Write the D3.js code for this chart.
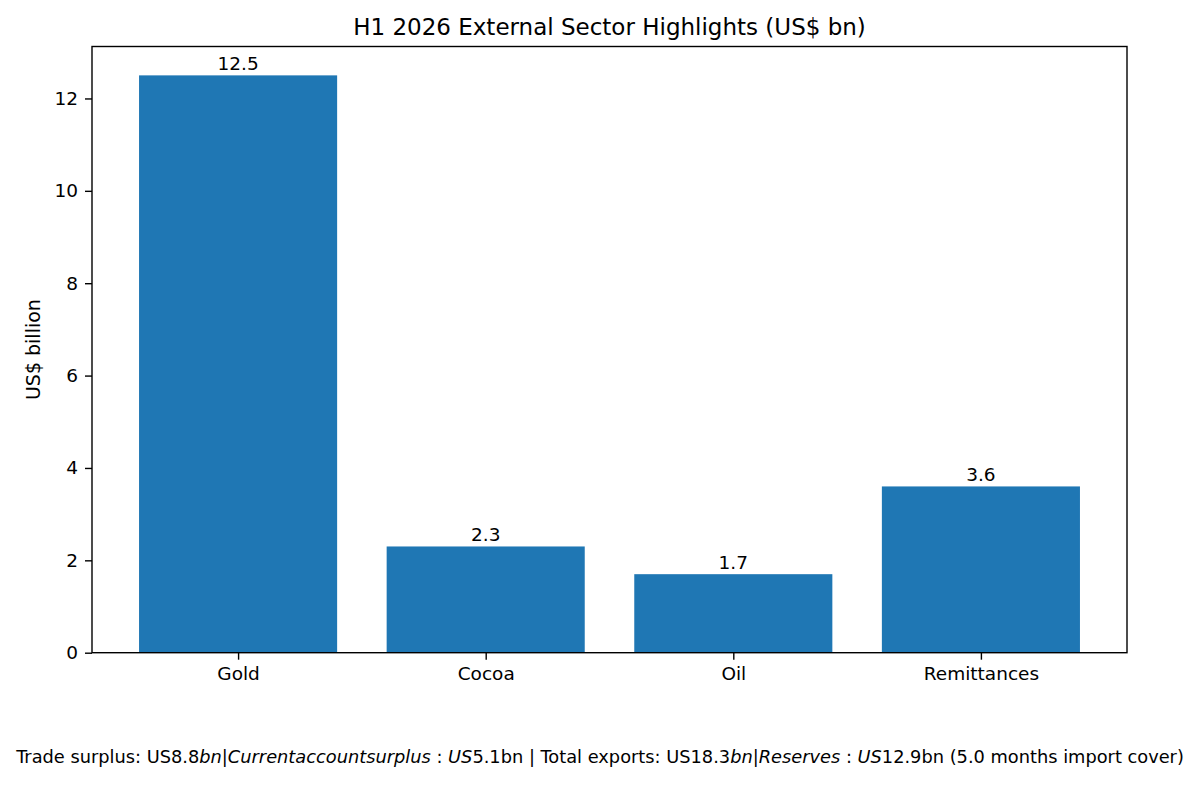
<!DOCTYPE html>
<html><head><meta charset="utf-8">
<script src="https://cdn.jsdelivr.net/npm/d3@7"></script>
<style>body{margin:0;background:#fff;} svg{font-family:"DejaVu Sans",sans-serif;}</style>
</head><body><svg id="c" width="1200" height="786"></svg>
<script>
const categories = ["Gold", "Cocoa", "Oil", "Remittances"];
const values = [12.5, 2.3, 1.7, 3.6];
const valueLabels = ["12.5", "2.3", "1.7", "3.6"];
const yTicks = [0, 2, 4, 6, 8, 10, 12];
const titleText = "H1 2026 External Sector Highlights (US$ bn)";
const yLabel = "US$ billion";
const footerParts = [
  ["Trade surplus: US8.8", false], ["bn", true], ["|", false], ["Currentaccountsurplus", true],
  [" : ", false], ["US", true], ["5.1bn | Total exports: US18.3", false], ["bn", true], ["|", false],
  ["Reserves", true], [" : ", false], ["US", true], ["12.9bn (5.0 months import cover)", false]
];

const svg = d3.select("#c");
const L = 92, R = 1127, T = 46.5, B = 652.7;
const x = d3.scaleLinear().domain([-0.59, 3.59]).range([L, R]);
const y = d3.scaleLinear().domain([0, 13.125]).range([B, T]);
const color = "#1f77b4";
const fs = "18.5px";

svg.selectAll("rect.bar").data(values).enter().append("rect")
  .attr("class", "bar")
  .attr("x", (d, i) => x(i - 0.4)).attr("width", (d, i) => x(i + 0.4) - x(i - 0.4))
  .attr("y", d => y(d)).attr("height", d => y(0) - y(d))
  .attr("fill", color);

svg.selectAll("text.val").data(values).enter().append("text")
  .attr("x", (d, i) => x(i)).attr("y", d => y(d) - 5)
  .attr("text-anchor", "middle").attr("font-size", fs).attr("fill", "#000")
  .text((d, i) => valueLabels[i]);

const yAxis = d3.axisLeft(y).tickValues(yTicks).tickSize(7).tickPadding(7).tickFormat(d3.format("d"));
const gy = svg.append("g").attr("transform", `translate(${L},0)`).call(yAxis);
gy.select(".domain").remove();
gy.selectAll("text").attr("font-size", fs).attr("font-family", "DejaVu Sans").attr("fill", "#000");
gy.selectAll("line").attr("stroke", "#000").attr("stroke-width", 1.4);

const xAxis = d3.axisBottom(x).tickValues(d3.range(categories.length)).tickSize(7).tickPadding(7).tickFormat(i => categories[i]);
const gx = svg.append("g").attr("transform", `translate(0,${B})`).call(xAxis);
gx.select(".domain").remove();
gx.selectAll("text").attr("font-size", fs).attr("font-family", "DejaVu Sans").attr("fill", "#000");
gx.selectAll("line").attr("stroke", "#000").attr("stroke-width", 1.4);

svg.append("rect").attr("x", L).attr("y", T).attr("width", R - L).attr("height", B - T)
  .attr("fill", "none").attr("stroke", "#000").attr("stroke-width", 1.4);

svg.append("text").attr("x", (L + R) / 2).attr("y", 35).attr("text-anchor", "middle")
  .attr("font-size", "23px").attr("fill", "#000").text(titleText);

svg.append("text").attr("transform", `translate(40,${(T + B) / 2}) rotate(-90)`)
  .attr("text-anchor", "middle").attr("font-size", "19px").attr("fill", "#000").text(yLabel);

const ft = svg.append("text").attr("x", 600).attr("y", 763).attr("text-anchor", "middle")
  .attr("font-size", "17.8px").attr("fill", "#000").attr("xml:space", "preserve").style("white-space", "pre");
footerParts.forEach(([t, it]) => ft.append("tspan").attr("font-style", it ? "italic" : "normal").text(t));
</script></body></html>
